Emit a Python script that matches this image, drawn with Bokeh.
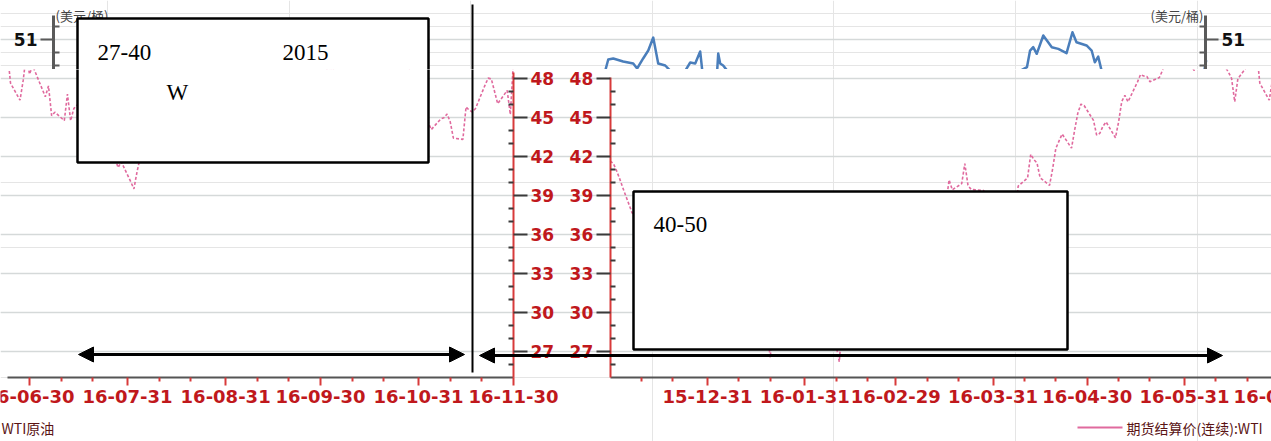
import numpy as np
import pandas as pd
from bokeh.plotting import figure
from bokeh.layouts import column
from bokeh.models import (Range1d, LinearAxis, DatetimeAxis, FixedTicker, DatetimeTickFormatter,
                          Grid, BoxAnnotation, Label, Arrow, NormalHead, ColumnDataSource)
from bokeh.embed import file_html
from bokeh.resources import INLINE

# ---------------- data ----------------
# Left panel: WTI futures settlement (continuous), Jun - Nov 2016
wti_a_dates = [
    "2016-06-23", "2016-06-24", "2016-06-27", "2016-06-28", "2016-06-29", "2016-06-30",
    "2016-07-01", "2016-07-05", "2016-07-06", "2016-07-07", "2016-07-08", "2016-07-11",
    "2016-07-12", "2016-07-13", "2016-07-14", "2016-07-15", "2016-07-18", "2016-07-19",
    "2016-07-20", "2016-07-21", "2016-07-22", "2016-07-25", "2016-07-26", "2016-07-27",
    "2016-07-28", "2016-07-29", "2016-08-01", "2016-08-02", "2016-08-03", "2016-08-04",
    "2016-08-05", "2016-08-08", "2016-08-09", "2016-08-10", "2016-08-11", "2016-08-12",
    "2016-08-15", "2016-08-16", "2016-08-17", "2016-08-18", "2016-08-19", "2016-08-22",
    "2016-08-23", "2016-08-24", "2016-08-25", "2016-08-26", "2016-08-29", "2016-08-30",
    "2016-08-31", "2016-09-01", "2016-09-02", "2016-09-06", "2016-09-07", "2016-09-08",
    "2016-09-09", "2016-09-12", "2016-09-13", "2016-09-14", "2016-09-15", "2016-09-16",
    "2016-09-19", "2016-09-20", "2016-09-21", "2016-09-22", "2016-09-23", "2016-09-26",
    "2016-09-27", "2016-09-28", "2016-09-29", "2016-09-30", "2016-10-03", "2016-10-04",
    "2016-10-05", "2016-10-06", "2016-10-07", "2016-10-10", "2016-10-11", "2016-10-12",
    "2016-10-13", "2016-10-14", "2016-10-17", "2016-10-18", "2016-10-19", "2016-10-20",
    "2016-10-21", "2016-10-24", "2016-10-25", "2016-10-26", "2016-10-27", "2016-10-28",
    "2016-10-31", "2016-11-01", "2016-11-02", "2016-11-03", "2016-11-04", "2016-11-07",
    "2016-11-08", "2016-11-09", "2016-11-10", "2016-11-11", "2016-11-14", "2016-11-15",
    "2016-11-16", "2016-11-17", "2016-11-18", "2016-11-21", "2016-11-22", "2016-11-23",
    "2016-11-25", "2016-11-28", "2016-11-29", "2016-11-30",
]
wti_a_values = [
    50.11, 47.64, 46.33, 47.85, 49.88, 48.33,
    48.99, 46.60, 47.43, 45.14, 45.41, 44.76,
    46.80, 44.75, 45.68, 45.95, 45.24, 44.65,
    44.94, 44.75, 44.19, 43.13, 42.92, 41.92,
    41.14, 41.60, 40.06, 39.51, 40.83, 41.93,
    41.80, 43.02, 42.77, 41.71, 43.49, 44.49,
    45.74, 46.58, 46.79, 48.22, 48.52, 47.05,
    48.10, 46.77, 47.33, 47.64, 46.98, 46.35,
    44.70, 43.16, 44.44, 44.83, 45.50, 47.62,
    45.88, 46.29, 44.90, 43.58, 43.91, 43.03,
    43.30, 43.44, 45.34, 46.32, 44.48, 45.93,
    44.67, 47.05, 47.83, 48.24, 48.81, 48.69,
    49.83, 50.44, 49.81, 51.35, 50.79, 50.18,
    50.44, 50.35, 49.94, 50.29, 51.60, 50.43,
    50.85, 50.52, 49.96, 49.18, 49.72, 48.70,
    46.86, 46.67, 45.34, 44.66, 44.07, 44.89,
    44.98, 45.27, 44.66, 43.41, 43.32, 45.81,
    45.57, 45.42, 45.69, 47.49, 48.03, 47.96,
    46.06, 47.08, 45.23, 49.44,
]

# Right panel: WTI futures settlement (continuous), Nov 2015 - Jun 2016
wti_b_dates = [
    "2015-11-30", "2015-12-01", "2015-12-02", "2015-12-03", "2015-12-04", "2015-12-07",
    "2015-12-08", "2015-12-09", "2015-12-10", "2015-12-11", "2015-12-14", "2015-12-15",
    "2015-12-16", "2015-12-17", "2015-12-18", "2015-12-21", "2015-12-22", "2015-12-23",
    "2015-12-24", "2015-12-28", "2015-12-29", "2015-12-30", "2015-12-31", "2016-01-04",
    "2016-01-05", "2016-01-06", "2016-01-07", "2016-01-08", "2016-01-11", "2016-01-12",
    "2016-01-13", "2016-01-14", "2016-01-15", "2016-01-19", "2016-01-20", "2016-01-21",
    "2016-01-22", "2016-01-25", "2016-01-26", "2016-01-27", "2016-01-28", "2016-01-29",
    "2016-02-01", "2016-02-02", "2016-02-03", "2016-02-04", "2016-02-05", "2016-02-08",
    "2016-02-09", "2016-02-10", "2016-02-11", "2016-02-12", "2016-02-16", "2016-02-17",
    "2016-02-18", "2016-02-19", "2016-02-22", "2016-02-23", "2016-02-24", "2016-02-25",
    "2016-02-26", "2016-02-29", "2016-03-01", "2016-03-02", "2016-03-03", "2016-03-04",
    "2016-03-07", "2016-03-08", "2016-03-09", "2016-03-10", "2016-03-11", "2016-03-14",
    "2016-03-15", "2016-03-16", "2016-03-17", "2016-03-18", "2016-03-21", "2016-03-22",
    "2016-03-23", "2016-03-24", "2016-03-28", "2016-03-29", "2016-03-30", "2016-03-31",
    "2016-04-01", "2016-04-04", "2016-04-05", "2016-04-06", "2016-04-07", "2016-04-08",
    "2016-04-11", "2016-04-12", "2016-04-13", "2016-04-14", "2016-04-15", "2016-04-18",
    "2016-04-19", "2016-04-20", "2016-04-21", "2016-04-22", "2016-04-25", "2016-04-26",
    "2016-04-27", "2016-04-28", "2016-04-29", "2016-05-02", "2016-05-03", "2016-05-04",
    "2016-05-05", "2016-05-06", "2016-05-09", "2016-05-10", "2016-05-11", "2016-05-12",
    "2016-05-13", "2016-05-16", "2016-05-17", "2016-05-18", "2016-05-19", "2016-05-20",
    "2016-05-23", "2016-05-24", "2016-05-25", "2016-05-26", "2016-05-27", "2016-05-31",
    "2016-06-01", "2016-06-02", "2016-06-03", "2016-06-06", "2016-06-07", "2016-06-08",
    "2016-06-09", "2016-06-10", "2016-06-13", "2016-06-14", "2016-06-15", "2016-06-16",
    "2016-06-17", "2016-06-20", "2016-06-21", "2016-06-22", "2016-06-23", "2016-06-24",
    "2016-06-27", "2016-06-28",
]
wti_b_values = [
    41.65, 41.46, 40.92, 40.30, 39.60, 37.65,
    37.51, 37.16, 36.76, 35.62, 36.31, 37.35,
    35.52, 34.95, 34.73, 34.74, 36.14, 37.50,
    38.10, 36.81, 37.87, 36.60, 37.04, 36.76,
    35.97, 33.97, 33.27, 33.16, 31.41, 30.44,
    30.48, 31.20, 29.42, 28.46, 26.55, 29.53,
    32.19, 30.34, 31.45, 32.30, 33.22, 33.62,
    31.62, 29.88, 32.28, 31.72, 30.89, 29.69,
    27.94, 27.45, 26.21, 29.44, 29.04, 30.66,
    30.77, 29.64, 31.48, 31.87, 32.15, 33.07,
    32.78, 33.75, 34.40, 34.66, 34.57, 35.92,
    37.90, 36.50, 38.29, 37.84, 38.50, 37.18,
    36.34, 38.46, 40.20, 39.44, 39.91, 41.45,
    39.79, 39.46, 39.39, 38.28, 38.32, 38.34,
    36.79, 35.70, 35.89, 37.75, 37.26, 39.72,
    40.36, 42.17, 41.76, 41.50, 40.36, 39.78,
    41.08, 42.63, 43.18, 43.73, 42.64, 44.04,
    45.33, 46.03, 45.92, 44.78, 43.65, 43.78,
    44.32, 44.66, 43.44, 44.66, 46.23, 46.70,
    46.21, 47.72, 48.31, 48.19, 48.16, 47.75,
    48.08, 48.62, 49.56, 49.48, 49.33, 49.10,
    49.01, 49.17, 48.62, 49.69, 50.36, 51.23,
    50.56, 49.07, 48.88, 48.49, 48.01, 46.21,
    47.98, 48.94, 48.85, 49.13, 50.11, 47.64,
    46.33, 47.85,
]

# Top strip: WTI crude (blue), only the parts that show above the lower panels
blue_dates = [
    "2015-11-28 10:00", "2015-11-29 09:00", "2015-11-30 23:00", "2015-12-04 03:00",
    "2015-12-07 08:00", "2015-12-08 14:00", "2015-12-10 12:00", "2015-12-12 03:00",
    "2015-12-13 17:00", "2015-12-15 07:00", "2015-12-17 13:00", "2015-12-19 03:00",
    "2015-12-21 00:00",
    "2015-12-23 22:00", "2015-12-25 12:00", "2015-12-27 02:00", "2015-12-28 16:00",
    "2015-12-29 08:00",
    "2015-12-31 00:00",
    "2016-01-03 02:00", "2016-01-03 10:00", "2016-01-04 01:00", "2016-01-05 00:00",
    "2016-01-06 07:00",
    "2016-02-15 00:00",
    "2016-04-08 17:00", "2016-04-10 19:00", "2016-04-11 19:00", "2016-04-12 19:00",
    "2016-04-13 22:00", "2016-04-16 00:00", "2016-04-18 17:00", "2016-04-20 19:00",
    "2016-04-23 10:00", "2016-04-25 07:00", "2016-04-26 14:00", "2016-04-29 19:00",
    "2016-05-01 10:00", "2016-05-02 10:00", "2016-05-03 12:00", "2016-05-04 14:00",
    "2016-05-20 00:00",
    "2016-06-06 07:00", "2016-06-06 22:00",
]
blue_values = [
    48.6, 49.46, 49.54, 49.31,
    49.15, 48.77, 49.54, 50.15,
    51.15, 49.15, 49.0, 48.6,
    np.nan,
    48.6, 49.23, 49.15, 50.08,
    48.6,
    np.nan,
    48.6, 49.92, 49.15, 49.0,
    48.6,
    np.nan,
    48.6, 48.87, 50.15, 50.41,
    49.9, 51.31, 50.41, 50.28,
    49.95, 51.56, 50.79, 50.54,
    50.15, 49.25, 49.69, 48.6,
    np.nan,
    48.6, 49.4,
]

# ticks
a_major_ticks = ["2016-06-30", "2016-07-31", "2016-08-31", "2016-09-30", "2016-10-31", "2016-11-30"]
a_minor_ticks = ["2016-07-10", "2016-07-20", "2016-08-10", "2016-08-20", "2016-09-10", "2016-09-20",
                 "2016-10-10", "2016-10-20", "2016-11-10", "2016-11-20"]
b_major_ticks = ["2015-12-31", "2016-01-31", "2016-02-29", "2016-03-31", "2016-04-30", "2016-05-31",
                 "2016-06-30"]
b_minor_ticks = ["2015-12-10", "2015-12-20", "2016-01-10", "2016-01-20", "2016-02-10", "2016-02-20",
                 "2016-03-10", "2016-03-20", "2016-04-10", "2016-04-20", "2016-05-10", "2016-05-20",
                 "2016-06-10", "2016-06-20"]
edge_tick_labels = ["16-06-30", "16-06-30"]   # labels cut by the left / right picture edges
price_major_ticks = [27, 30, 33, 36, 39, 42, 45, 48]
price_minor_ticks = [26, 28, 29, 31, 32, 34, 35, 37, 38, 40, 41, 43, 44, 46, 47]
top_major_ticks = [51]
top_minor_ticks = [49, 50, 52]
grid_levels_low = [27, 30, 33, 36, 39, 42, 45, 48]
grid_levels_top = [51]

axis_unit = "(美元/桶)"
legend_left = "WTI原油"
legend_right = "期货结算价(连续):WTI"


def ms(seq):
    return pd.to_datetime(pd.Series(seq)).values.astype("datetime64[ms]").astype("int64").astype(float)


# ---------------- layout (reference pixel geometry) ----------------
W = 1271
X0, X1 = 0, 1271            # reference x of canvas left/right
Y0, YM, YB = 0, 69, 441     # reference y of top, strip split, bottom
H1, H2 = YM - Y0, YB - YM
PX_PER_UNIT = 13.0
REF_PRICE, REF_Y = 48.0, 78.0


def price_at(y):
    return REF_PRICE - (y - REF_Y) / PX_PER_UNIT


def date_range(d1, px1, d2, px2):
    t1, t2 = ms([d1, d2])
    k = (t2 - t1) / (px2 - px1)
    return Range1d(t1 - (px1 - X0) * k, t1 + (X1 - px1) * k)


def rng_a():
    return date_range("2016-06-30", 29, "2016-11-30", 513)


def rng_b():
    return date_range("2015-12-31", 707, "2016-05-31", 1184)


def make_fig(h, y_lo, y_hi, py_lo, py_hi):
    p = figure(width=W, height=h, x_range=rng_b(), y_range=Range1d(y_lo, y_hi),
               output_backend="svg", toolbar_location=None, tools="",
               x_axis_location=None, y_axis_location=None, min_border=0,
               outline_line_color=None, title=None,
               background_fill_color="white", border_fill_color="white")
    p.extra_x_ranges = {"a": rng_a(), "px": Range1d(X0, X1)}
    p.extra_y_ranges = {"py": Range1d(py_lo, py_hi)}
    return p


GRID_COLOR = "#d5d9d9"
PINK = "#e06a9e"
BLUE = "#4a7ebb"
RED_TXT = "#c0181c"
RED_LINE = "#d83a3a"
TICK_DARK = "#3a3a3a"

# ---------------- top strip ----------------
p1 = make_fig(H1, price_at(YM), price_at(Y0), YM, Y0)
p1.add_layout(Grid(dimension=1, ticker=FixedTicker(ticks=grid_levels_top),
                   grid_line_color=GRID_COLOR, grid_line_width=1.5))

bsrc = ColumnDataSource(dict(x=ms(blue_dates), y=blue_values))
p1.line("x", "y", source=bsrc, line_color=BLUE, line_width=2.5, line_join="round")


def top_axis(loc, side):
    ax = LinearAxis(fixed_location=loc, x_range_name="px",
                    ticker=FixedTicker(ticks=top_major_ticks, minor_ticks=top_minor_ticks),
                    bounds=(price_at(YM) - 0.2, price_at(15)),
                    axis_line_color="#5a5a5a", axis_line_width=3,
                    major_tick_line_color="#5a5a5a", major_tick_line_width=2,
                    major_tick_in=0, major_tick_out=13,
                    minor_tick_line_color="#5a5a5a", minor_tick_line_width=2,
                    minor_tick_in=6, minor_tick_out=0,
                    major_label_text_font="DejaVu Sans", major_label_text_font_size="17px",
                    major_label_text_font_style="bold", major_label_text_color="#111111",
                    major_label_standoff=3)
    p1.add_layout(ax, side)


top_axis(53, "left")
top_axis(1205, "right")

p1.add_layout(Label(x=55, y=15, x_range_name="px", y_range_name="py", text=axis_unit,
                    text_font="Noto Sans CJK SC", text_font_size="13px", text_color="#444444",
                    text_baseline="middle", text_align="left"))
p1.add_layout(Label(x=1203, y=15, x_range_name="px", y_range_name="py", text=axis_unit,
                    text_font="Noto Sans CJK SC", text_font_size="13px", text_color="#444444",
                    text_baseline="middle", text_align="right"))

BOX1 = dict(left=77, right=428, top=18, bottom=162)
BOX2 = dict(left=633, right=1067, top=191, bottom=349)
box_style = dict(fill_color="white", fill_alpha=1.0, line_color="black", line_alpha=1.0,
                 line_width=2.5, x_range_name="px", y_range_name="py")
serif = dict(text_font="Liberation Serif", text_font_size="23px", text_color="black",
             text_baseline="middle", text_align="left", x_range_name="px", y_range_name="py")

p1.add_layout(BoxAnnotation(**BOX1, **box_style))
p1.add_layout(Label(x=97, y=52, text="27-40", **serif))
p1.add_layout(Label(x=282, y=52, text="2015", **serif))
p1.add_layout(Arrow(x_start=472, y_start=4, x_end=472, y_end=80, start=None, end=None,
                    line_color="black", line_width=2, x_range_name="px", y_range_name="py"))

# ---------------- lower panels ----------------
p2 = make_fig(H2, price_at(YB), price_at(YM), YB, YM)
p2.add_layout(Grid(dimension=1, ticker=FixedTicker(ticks=grid_levels_low),
                   grid_line_color=GRID_COLOR, grid_line_width=1.5))

asrc = ColumnDataSource(dict(x=ms(wti_a_dates), y=wti_a_values))
p2.line("x", "y", source=asrc, x_range_name="a", line_color=PINK, line_width=1.6,
        line_dash="3 2")
bsrc2 = ColumnDataSource(dict(x=ms(wti_b_dates), y=wti_b_values))
p2.line("x", "y", source=bsrc2, line_color=PINK, line_width=1.6, line_dash="3 2")

X_AXIS_LEVEL = price_at(377)
date_fmt = DatetimeTickFormatter(days="%y-%m-%d", months="%y-%m-%d", years="%y-%m-%d",
                                 hours="%y-%m-%d", strip_leading_zeros=False)
tick_font = dict(major_label_text_font="DejaVu Sans", major_label_text_font_size="18px",
                 major_label_text_font_style="bold", major_label_text_color=RED_TXT)
xaxis_style = dict(fixed_location=X_AXIS_LEVEL, formatter=date_fmt,
                   axis_line_color="#555555", axis_line_width=2,
                   major_tick_line_color=RED_LINE, major_tick_line_width=2,
                   major_tick_in=0, major_tick_out=8,
                   minor_tick_line_color=RED_LINE, minor_tick_line_width=2,
                   minor_tick_in=0, minor_tick_out=4,
                   major_label_standoff=4, **tick_font)

ra = p2.extra_x_ranges["a"]
ms_per_px_a = (ra.end - ra.start) / (X1 - X0)
a_ticks_ms = list(ms(a_major_ticks))
xa = DatetimeAxis(x_range_name="a",
                  ticker=FixedTicker(ticks=a_ticks_ms, minor_ticks=list(ms(a_minor_ticks))),
                  bounds=(ra.start + (7 - X0) * ms_per_px_a, float(ms(["2016-11-30"])[0])),
                  major_label_overrides={a_ticks_ms[0]: ""},
                  **xaxis_style)
p2.add_layout(xa, "below")
b_ticks_ms = list(ms(b_major_ticks))
xb = DatetimeAxis(ticker=FixedTicker(ticks=b_ticks_ms, minor_ticks=list(ms(b_minor_ticks))),
                  bounds=(float(ms(["2015-11-30"])[0]), p2.x_range.end), **xaxis_style)
p2.add_layout(xb, "below")

# tick labels of the two edge ticks, left uncut so that the picture edge trims them
edge_lbl = dict(text_font="DejaVu Sans", text_font_size="18px", text_font_style="bold",
                text_color=RED_TXT, text_align="center", text_baseline="top")
p2.add_layout(Label(x=a_ticks_ms[0], y=price_at(389), x_range_name="a",
                    text=edge_tick_labels[0], **edge_lbl))
p2.add_layout(Label(x=b_ticks_ms[-1], y=price_at(389),
                    text=edge_tick_labels[1], **edge_lbl))

yaxis_style = dict(ticker=FixedTicker(ticks=price_major_ticks, minor_ticks=price_minor_ticks),
                   axis_line_color=RED_LINE, axis_line_width=2,
                   major_tick_line_color=TICK_DARK, major_tick_line_width=2,
                   major_tick_in=0, major_tick_out=14,
                   minor_tick_line_color=TICK_DARK, minor_tick_line_width=2,
                   minor_tick_in=5, minor_tick_out=0,
                   major_label_text_font="DejaVu Sans", major_label_text_font_size="17px",
                   major_label_text_font_style="bold", major_label_text_color=RED_TXT,
                   major_label_standoff=3)
ya = LinearAxis(x_range_name="a", fixed_location=float(ms(["2016-11-30"])[0]),
                bounds=(X_AXIS_LEVEL, price_at(72)), **yaxis_style)
p2.add_layout(ya, "right")
yb = LinearAxis(fixed_location=float(ms(["2015-11-30"])[0]),
                bounds=(X_AXIS_LEVEL, price_at(77)), **yaxis_style)
p2.add_layout(yb, "left")

p2.add_layout(BoxAnnotation(**BOX1, **box_style))
p2.add_layout(Label(x=166, y=92, text="W", **serif))
p2.add_layout(BoxAnnotation(**BOX2, **box_style))
p2.add_layout(Label(x=653, y=224, text="40-50", **serif))

p2.add_layout(Arrow(x_start=472, y_start=60, x_end=472, y_end=372, start=None, end=None,
                    line_color="black", line_width=2, x_range_name="px", y_range_name="py"))


def head():
    return NormalHead(size=15, fill_color="black", line_color="black", line_width=1)


p2.add_layout(Arrow(x_start=78, y_start=354, x_end=464, y_end=354, start=head(), end=head(),
                    line_color="black", line_width=3, x_range_name="px", y_range_name="py"))
p2.add_layout(Arrow(x_start=479, y_start=355, x_end=1222, y_end=355, start=head(), end=head(),
                    line_color="black", line_width=3, x_range_name="px", y_range_name="py"))

legend_txt = dict(text_font="Noto Sans CJK SC", text_font_size="14px", text_color="#5a1414",
                  text_baseline="middle", x_range_name="px", y_range_name="py")
p2.add_layout(Label(x=1, y=427, text=legend_left, text_align="left", **legend_txt))
p2.add_layout(Arrow(x_start=1077, y_start=427, x_end=1122, y_end=427, start=None, end=None,
                    line_color=PINK, line_width=2, x_range_name="px", y_range_name="py"))
p2.add_layout(Label(x=1126, y=427, text=legend_right, text_align="left", **legend_txt))

layout = column(p1, p2, spacing=0)
open("out.html", "w").write(file_html(layout, INLINE))
